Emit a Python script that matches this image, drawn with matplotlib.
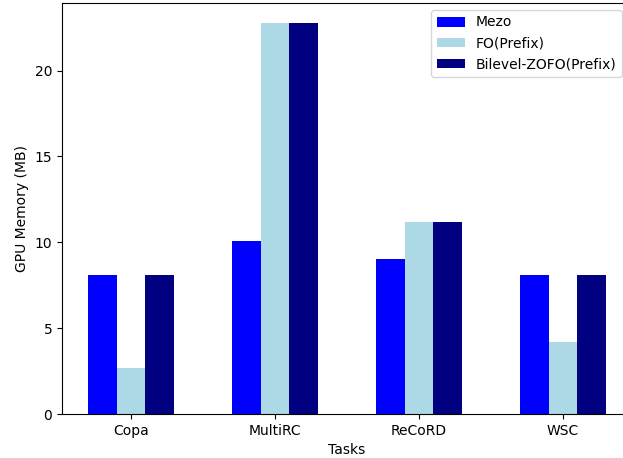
import numpy as np
from matplotlib import pyplot as plt

tasks = ['Copa', 'MultiRC', 'ReCoRD', 'WSC']
mezo = [8.1, 10.1, 9.0, 8.1]
fo_prefix = [2.7, 22.8, 11.2, 4.2]
bilevel = [8.1, 22.8, 11.2, 8.1]

fig = plt.figure(figsize=(6.23, 4.58), dpi=100)
# 参考图右侧被裁掉了, 所以坐标轴延伸到图外
ax = fig.add_axes([62 / 623, 44 / 458, 570 / 623, 411 / 458])

x = np.arange(len(tasks))
w = 0.2
ax.bar(x - w, mezo, w, color='blue', label='Mezo')
ax.bar(x, fo_prefix, w, color='lightblue', label='FO(Prefix)')
ax.bar(x + w, bilevel, w, color='navy', label='Bilevel-ZOFO(Prefix)')

ax.set_xticks(x)
ax.set_xticklabels(tasks)
ax.set_xlabel('Tasks')
ax.set_ylabel('GPU Memory (MB)')
ax.legend(loc='upper right', bbox_to_anchor=(629 / 623, 1 - 3 / 458), bbox_transform=fig.transFigure)

plt.savefig('out.png', dpi=100)
